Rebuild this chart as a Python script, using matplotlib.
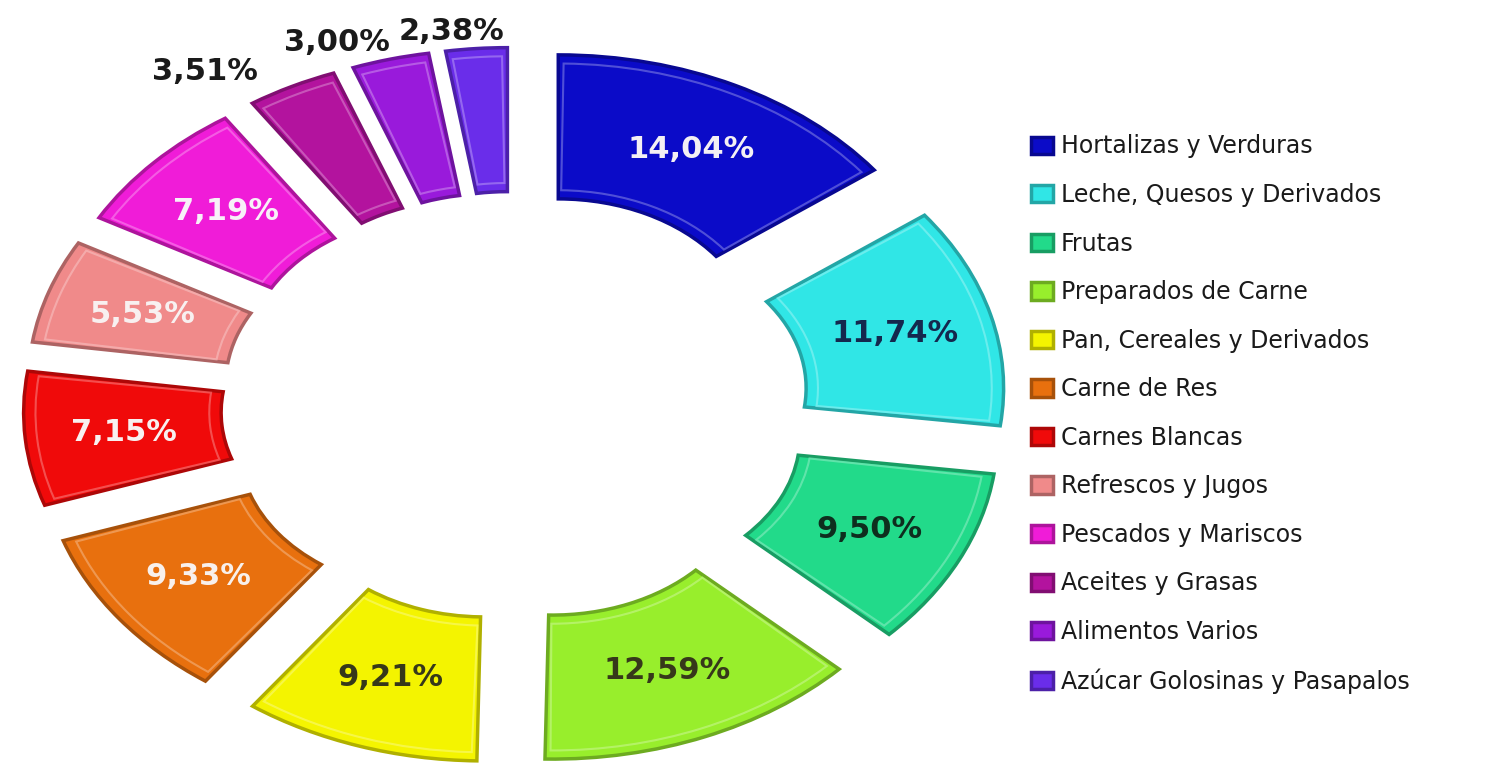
import numpy as np
import matplotlib
matplotlib.use("Agg")
import matplotlib.pyplot as plt
import matplotlib.colors as mcolors

# data
categorias = ["Hortalizas y Verduras", "Leche, Quesos y Derivados", "Frutas",
              "Preparados de Carne", "Pan, Cereales y Derivados", "Carne de Res",
              "Carnes Blancas", "Refrescos y Jugos", "Pescados y Mariscos",
              "Aceites y Grasas", "Alimentos Varios", "Azúcar Golosinas y Pasapalos"]
valores = [14.04, 11.74, 9.50, 12.59, 9.21, 9.33, 7.15, 5.53, 7.19, 3.51, 3.00, 2.38]
colores = ["#0B0BC8", "#30E6E6", "#22DA8A", "#98EE2C", "#F4F400", "#E8700E",
           "#F00A0A", "#F08A8A", "#F01CD8", "#B3139E", "#991ADB", "#6A2DEA"]
color_texto = ["#F4F0F4", "#14284E", "#0E2E1E", "#36381A", "#36381A", "#F8F0EC",
               "#F8F0F0", "#F8F0F0", "#F8F0F8", "#1A1A1A", "#1A1A1A", "#1A1A1A"]
fuera = [False] * 9 + [True] * 3

W, H = 1510, 764
fig = plt.figure(figsize=(W / 100, H / 100), dpi=100)

# stretched doughnut: pixels per data unit in x and y
sx, sy = 395, 288
cx, cy = 515, H - 406
L, M = 1.3, 1.45
ax = fig.add_axes([(cx - L * sx) / W, (cy - M * sy) / H, 2 * L * sx / W, 2 * M * sy / H])

explode = [0.245] * len(valores)
wedges, _ = ax.pie(valores, colors=colores, explode=explode, startangle=90,
                   counterclock=False, radius=1.0,
                   wedgeprops=dict(width=0.5, linewidth=0))
ax.set_aspect("auto")
ax.set_xlim(-L, L)
ax.set_ylim(-M, M)
ax.axis("off")

for w, c in zip(wedges, colores):
    oscuro = np.array(mcolors.to_rgb(c)) * 0.72
    claro = 1 - (1 - np.array(mcolors.to_rgb(c))) * 0.6
    w.set_edgecolor(oscuro)
    w.set_linewidth(2.5)
    # light bevel
    t1, t2 = w.theta1, w.theta2
    bev = matplotlib.patches.Wedge(w.center, 0.97, t1 + 0.8, t2 - 0.8, width=0.44,
                                   facecolor="none", edgecolor=claro, linewidth=1.5,
                                   alpha=0.7)
    ax.add_patch(bev)

for w, v, tc, out in zip(wedges, valores, color_texto, fuera):
    ang = np.deg2rad((w.theta1 + w.theta2) / 2)
    x0, y0 = w.center
    texto = f"{v:.2f}".replace(".", ",") + "%"
    if out:
        # outside labels sit on a wider ellipse, pushed left
        x = x0 + 1.42 * np.cos(ang) - 0.03
        y = y0 + 1.06 * np.sin(ang)
    else:
        x = x0 + 0.75 * np.cos(ang)
        y = y0 + 0.75 * np.sin(ang)
    ax.text(x, y, texto, ha="center", va="center", fontsize=22,
            fontweight="bold", color=tc, clip_on=False)

leg = fig.legend(wedges, categorias, loc="upper left",
                 bbox_to_anchor=(1022 / W, 1 - 125 / H), frameon=False,
                 fontsize=17, handlelength=0.9, handleheight=0.75,
                 handletextpad=0.35, labelspacing=1.04, borderaxespad=0)
for t in leg.get_texts():
    t.set_color("#1A1A1A")

fig.savefig("out.png", dpi=100)
